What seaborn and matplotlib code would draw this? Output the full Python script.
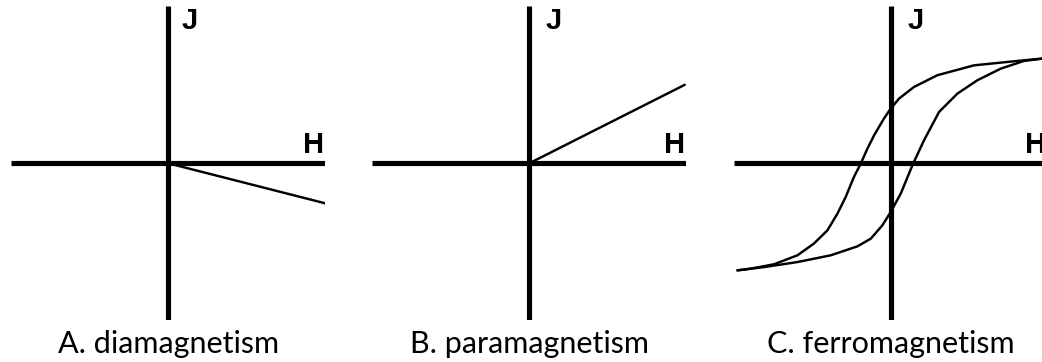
import matplotlib
matplotlib.use("Agg")
import matplotlib.pyplot as plt
import seaborn as sns
import pandas as pd

sns.set_theme(style="white")
plt.rcParams["font.family"] = ["Lato", "DejaVu Sans"]
plt.rcParams["text.color"] = "black"

# Panel captions
captions = ["A. diamagnetism", "B. paramagnetism", "C. ferromagnetism"]

# Diamagnetism: linear response with negative slope
dia_h = [0.0, 1.0]
dia_j = [0.0, -0.255]

# Paramagnetism: linear response with positive slope
para_h = [0.0, 0.99]
para_j = [0.0, 0.50]

# Ferromagnetism: hysteresis loop, descending branch (right to left)
ferro_down_h = [0.966, 0.807, 0.531, 0.297, 0.148, 0.053, 0.0, -0.043, -0.106,
                -0.148, -0.191, -0.234, -0.287, -0.339, -0.403, -0.489, -0.594,
                -0.743, -0.892, -0.976]
ferro_down_j = [0.667, 0.652, 0.624, 0.561, 0.486, 0.412, 0.348, 0.285, 0.178,
                0.094, -0.002, -0.087, -0.215, -0.320, -0.427, -0.511, -0.586,
                -0.643, -0.671, -0.682]
# ascending branch (left to right)
ferro_up_h = [-0.976, -0.807, -0.594, -0.382, -0.212, -0.127, -0.053, 0.0, 0.064,
              0.138, 0.212, 0.308, 0.425, 0.552, 0.701, 0.849, 0.966]
ferro_up_j = [-0.682, -0.661, -0.629, -0.586, -0.529, -0.480, -0.395, -0.310,
              -0.193, -0.013, 0.146, 0.327, 0.444, 0.529, 0.603, 0.652, 0.667]

W, H = 1042, 362
fig = plt.figure(figsize=(W / 100, H / 100), dpi=100)
fig.patch.set_facecolor("white")

# origin of each panel in pixels; each panel is a 314x314 square around it
origins_px = [(168.3, 163.3), (529.3, 163.3), (890.7, 163.3)]
half = 157.0
j_offsets = [0.085, 0.105, 0.11]

axes = []
for (ox, oy) in origins_px:
    ax = fig.add_axes([(ox - half) / W, (H - oy - half) / H, 2 * half / W, 2 * half / H])
    ax.set_xlim(-1, 1)
    ax.set_ylim(-1, 1)
    ax.set_axis_off()
    ax.axhline(0, color="black", lw=3.7, solid_capstyle="butt", zorder=3)
    ax.axvline(0, color="black", lw=3.7, solid_capstyle="butt", zorder=3)
    axes.append(ax)

curve_kw = dict(color="black", linewidth=1.75, sort=False, estimator=None,
                legend=False, zorder=4)

sns.lineplot(data=pd.DataFrame({"H": dia_h, "J": dia_j}), x="H", y="J",
             ax=axes[0], **curve_kw)
sns.lineplot(data=pd.DataFrame({"H": para_h, "J": para_j}), x="H", y="J",
             ax=axes[1], **curve_kw)
sns.lineplot(data=pd.DataFrame({"H": ferro_down_h, "J": ferro_down_j}), x="H", y="J",
             ax=axes[2], **curve_kw)
sns.lineplot(data=pd.DataFrame({"H": ferro_up_h, "J": ferro_up_j}), x="H", y="J",
             ax=axes[2], **curve_kw)

label_font = ["Liberation Sans", "DejaVu Sans"]
for ax, jx in zip(axes, j_offsets):
    ax.set_xlim(-1, 1)
    ax.set_ylim(-1, 1)
    ax.set_axis_off()
    ax.text(jx, 0.855, "J", ha="left", va="baseline", fontsize=21,
            fontweight="bold", family=label_font, color="black")
    ax.text(0.855, 0.066, "H", ha="left", va="baseline", fontsize=21,
            fontweight="bold", family=label_font, color="black",
            clip_on=False)

for (ox, oy), cap in zip(origins_px, captions):
    fig.text(ox / W, (H - 353) / H, cap, ha="center", va="baseline",
             fontsize=22, color="black")

fig.savefig("out.png", dpi=100, facecolor="white")
